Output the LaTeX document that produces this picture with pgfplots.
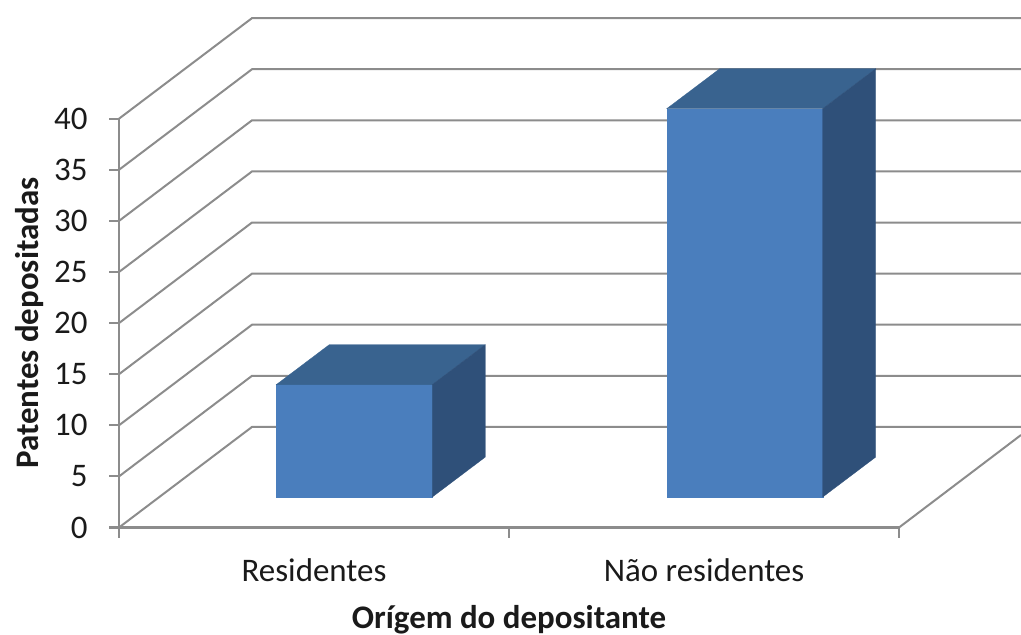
\documentclass[border=0pt]{standalone}
\usepackage{fontspec}
\setmainfont{Carlito}
\usepackage{pgfplots}
\pgfplotsset{compat=1.18}
\definecolor{wall}{HTML}{8C8C8C}
\definecolor{front}{HTML}{4A7EBD}
\definecolor{topface}{HTML}{39638F}
\definecolor{sideface}{HTML}{2F5079}
\definecolor{ink}{HTML}{1A1A1A}

\begin{document}
\begin{tikzpicture}
\begin{axis}[
  x=292.5pt, y=7.665pt,
  xmin=0, xmax=2, ymin=0, ymax=40,
  clip=false,
  axis lines=left,
  axis line style={-, wall, line width=1.6pt},
  tick align=outside,
  tick style={wall, line width=1.6pt},
  major tick length=7.5pt,
  xtick={0,1,2},
  xticklabels={},
  extra x ticks={0.5,1.5},
  extra x tick labels={Residentes,Não residentes},
  extra x tick style={major tick length=0pt},
  ytick={0,5,...,40},
  /pgf/number format/assume math mode=true,
  tick label style={font=\fontsize{24.7}{28}\selectfont, text=ink},
  label style={font=\fontsize{24.7}{28}\selectfont\bfseries, text=ink},
  xticklabel style={yshift=-20pt},
  yticklabel style={xshift=-12.5pt},
  xlabel style={yshift=-3.5pt},
  ylabel style={yshift=1pt},
  xlabel={Orígem do depositante},
  ylabel={Patentes depositadas},
]
% walls: left wall diagonals plus back wall lines, one per tick
\addplot[wall, line width=1.5pt] coordinates {(0,0) (0.341,9.84) (2.3128,9.84)};
\addplot[wall, line width=1.5pt] coordinates {(0,5) (0.341,14.84) (2.3128,14.84)};
\addplot[wall, line width=1.5pt] coordinates {(0,10) (0.341,19.84) (2.3128,19.84)};
\addplot[wall, line width=1.5pt] coordinates {(0,15) (0.341,24.84) (2.3128,24.84)};
\addplot[wall, line width=1.5pt] coordinates {(0,20) (0.341,29.84) (2.3128,29.84)};
\addplot[wall, line width=1.5pt] coordinates {(0,25) (0.341,34.84) (2.3128,34.84)};
\addplot[wall, line width=1.5pt] coordinates {(0,30) (0.341,39.84) (2.3128,39.84)};
\addplot[wall, line width=1.5pt] coordinates {(0,35) (0.341,44.84) (2.3128,44.84)};
\addplot[wall, line width=1.5pt] coordinates {(0,40) (0.341,49.84) (2.3128,49.84)};
% floor edge on the right
\addplot[wall, line width=1.5pt] coordinates {(2,0) (2.3128,9.05)};
% Residentes = 11, front face starts 2.98 up because of the bar's depth offset
\addplot[fill=front, draw=front, line width=0.2pt] coordinates {(0.4033,2.98) (0.8033,2.98) (0.8033,13.98) (0.4033,13.98)} -- cycle;
\addplot[fill=topface, draw=topface, line width=0.2pt] coordinates {(0.4033,13.98) (0.8033,13.98) (0.9392,17.89) (0.5392,17.89)} -- cycle;
\addplot[fill=sideface, draw=sideface, line width=0.2pt] coordinates {(0.8033,2.98) (0.9392,6.89) (0.9392,17.89) (0.8033,13.98)} -- cycle;
% Nao residentes = 38
\addplot[fill=front, draw=front, line width=0.2pt] coordinates {(1.4044,2.98) (1.8044,2.98) (1.8044,40.98) (1.4044,40.98)} -- cycle;
\addplot[fill=topface, draw=topface, line width=0.2pt] coordinates {(1.4044,40.98) (1.8044,40.98) (1.9403,44.89) (1.5403,44.89)} -- cycle;
\addplot[fill=sideface, draw=sideface, line width=0.2pt] coordinates {(1.8044,2.98) (1.9403,6.89) (1.9403,44.89) (1.8044,40.98)} -- cycle;
\coordinate (bl) at (axis cs:-0.30513,-10.518);
\coordinate (tr) at (axis cs:2.3128,51.614);
\end{axis}
\pgfresetboundingbox
\path[use as bounding box] (bl) rectangle (tr);
\end{tikzpicture}
\end{document}
